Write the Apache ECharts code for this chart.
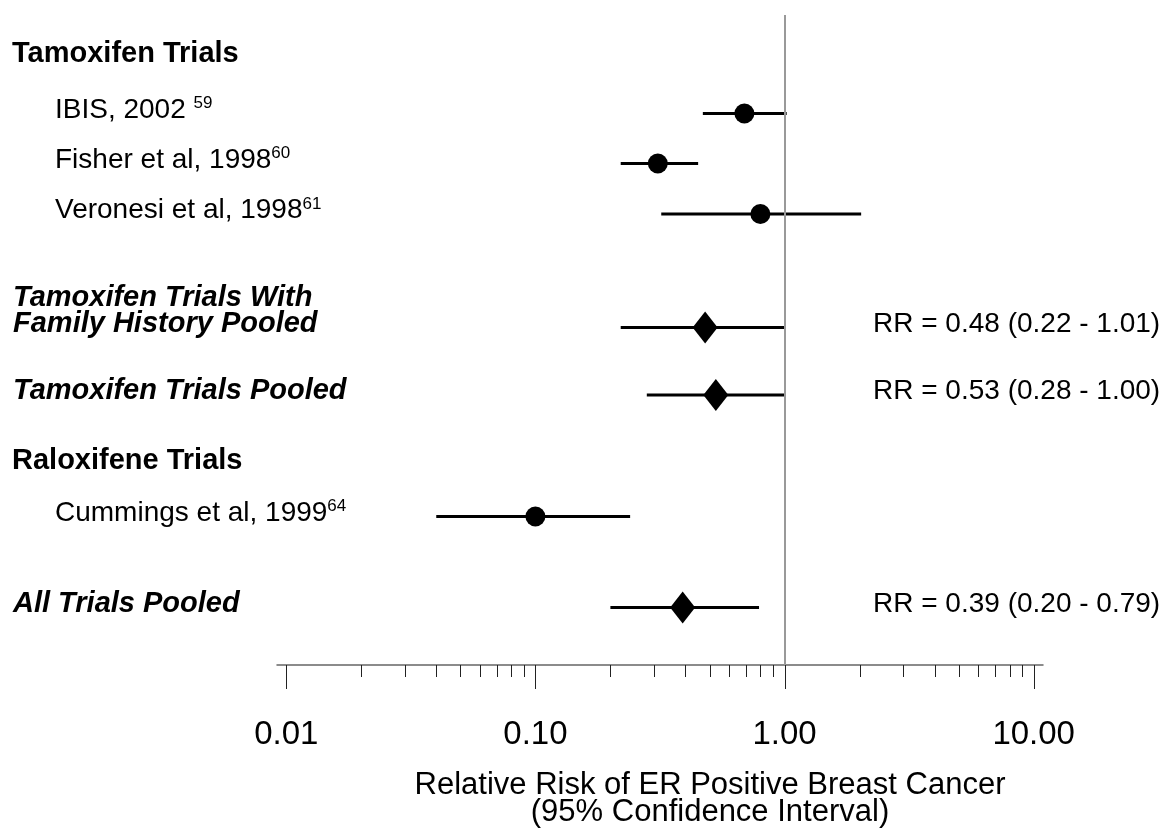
<!DOCTYPE html>
<html>
<head>
<meta charset="utf-8">
<script src="https://cdn.jsdelivr.net/npm/echarts@6/dist/echarts.min.js"></script>
<style>
  html, body { margin: 0; padding: 0; background: #fff; }
  #chart { width: 1170px; height: 830px; }
</style>
</head>
<body>
<div id="chart"></div>
<script>
// Forest plot rows, top to bottom
const rowLabels = [
  'Tamoxifen Trials',
  'IBIS, 2002',
  'Fisher et al, 1998',
  'Veronesi et al, 1998',
  'Tamoxifen Trials With\nFamily History Pooled',
  'Tamoxifen Trials Pooled',
  'Raloxifene Trials',
  'Cummings et al, 1999',
  'All Trials Pooled'
];
const refNumbers = ['', '59', '60', '61', '', '', '', '64', ''];
const refSpacer  = ['', ' ', '', '', '', '', '', '', ''];
const rowTypes = ['group', 'study', 'study', 'study', 'pooled', 'pooled', 'group', 'study', 'pooled'];

// Relative risk and 95% confidence limits (null for group headings)
const relativeRisk = [null, 0.69, 0.31, 0.80, 0.48, 0.53, null, 0.10, 0.39];
const ciLower      = [null, 0.47, 0.22, 0.32, 0.22, 0.28, null, 0.04, 0.20];
const ciUpper      = [null, 1.02, 0.45, 2.03, 1.01, 1.00, null, 0.24, 0.79];
const showSummary  = [false, false, false, false, true, true, false, false, true];

// Log axis ticks
const majorTicks = [0.01, 0.1, 1, 10];
const minorTicks = [0.02, 0.03, 0.04, 0.05, 0.06, 0.07, 0.08, 0.09,
                    0.2, 0.3, 0.4, 0.5, 0.6, 0.7, 0.8, 0.9,
                    2, 3, 4, 5, 6, 7, 8, 9];
const tickLabels = ['0.01', '0.10', '1.00', '10.00'];
const axisTitle = 'Relative Risk of ER Positive Breast Cancer\n(95% Confidence Interval)';
const nullEffect = 1;

// ---- layout ----
const FONT = '"Liberation Sans", Arial, Helvetica, sans-serif';
const X_MIN = 0.00918, X_MAX = 10.9;      // axis line runs a little past 0.01 and 10
const Y_MIN = 0, Y_MAX = 13;               // vertical row units
const rowSlot = [0.86, 1.97, 2.97, 3.98, 6.25, 7.6, 9.0, 10.03, 11.85];
const labelX = { group: 12, study: 55, pooled: 13 };
const labelFont = {
  group:  'bold 29px ' + FONT,
  study:  '28px ' + FONT,
  pooled: 'italic bold 29px ' + FONT
};
const summaryX = 873;

function fmt(v) { return v.toFixed(2); }

const rowIdx = rowLabels.map((_, i) => i);
const studyPts = rowIdx.filter(i => rowTypes[i] === 'study').map(i => [relativeRisk[i], rowSlot[i]]);
const pooledPts = rowIdx.filter(i => rowTypes[i] === 'pooled').map(i => [relativeRisk[i], rowSlot[i]]);
const ciRows = rowIdx.filter(i => relativeRisk[i] !== null);

const tickData = majorTicks.map((v, k) => [v, Y_MAX, 1, k]).concat(minorTicks.map(v => [v, Y_MAX, 0, -1]));

const chart = echarts.init(document.getElementById('chart'), null, { renderer: 'canvas' });

chart.setOption({
  animation: false,
  backgroundColor: '#ffffff',
  grid: { left: 277, right: 127, top: 15, bottom: 165 },
  title: {
    text: axisTitle,
    left: 705,
    top: 767,
    textAlign: 'center',
    textStyle: { fontFamily: FONT, fontSize: 31, fontWeight: 'normal', color: '#000', lineHeight: 27 }
  },
  xAxis: {
    type: 'log',
    logBase: 10,
    min: X_MIN,
    max: X_MAX,
    axisLine: { show: true, onZero: false, lineStyle: { color: '#666', width: 1.5 } },
    axisTick: { show: false },
    axisLabel: { show: false },
    splitLine: { show: false },
    minorTick: { show: false }
  },
  yAxis: {
    type: 'value',
    inverse: true,
    min: Y_MIN,
    max: Y_MAX,
    show: false,
    splitLine: { show: false }
  },
  series: [
    // row labels on the left
    {
      type: 'custom',
      clip: false,
      silent: true,
      data: rowIdx.map(i => [nullEffect, rowSlot[i]]),
      renderItem: function (params, api) {
        const i = params.dataIndex;
        const y = api.coord([nullEffect, rowSlot[i]])[1] - 3.6;
        const kind = rowTypes[i];
        const lines = rowLabels[i].split('\n');
        const lh = 26;
        if (refNumbers[i]) {
          return {
            type: 'text',
            x: labelX[kind],
            y: y,
            style: {
              text: '{m|' + rowLabels[i] + refSpacer[i] + '}{s|' + refNumbers[i] + '}',
              align: 'left',
              verticalAlign: 'middle',
              rich: {
                m: { font: labelFont[kind], fill: '#000', lineHeight: 30, verticalAlign: 'middle' },
                s: { font: '17px ' + FONT, fill: '#000', lineHeight: 30, verticalAlign: 'top', padding: [0, 0, 0, 0] }
              }
            }
          };
        }
        return {
          type: 'text',
          x: labelX[kind],
          y: y - (lines.length - 1) * lh / 2,
          style: {
            text: rowLabels[i],
            font: labelFont[kind],
            fill: '#000',
            lineHeight: lh,
            align: 'left',
            verticalAlign: 'middle'
          }
        };
      }
    },
    // confidence interval bars
    {
      type: 'custom',
      clip: false,
      silent: true,
      data: ciRows.map(i => [ciLower[i], rowSlot[i], ciUpper[i]]),
      renderItem: function (params, api) {
        const a = api.coord([api.value(0), api.value(1)]);
        const b = api.coord([api.value(2), api.value(1)]);
        return {
          type: 'line',
          shape: { x1: a[0], y1: a[1], x2: b[0], y2: b[1] },
          style: { stroke: '#000', lineWidth: 3 }
        };
      }
    },
    // summary text on the right
    {
      type: 'custom',
      clip: false,
      silent: true,
      data: ciRows.filter(i => showSummary[i]).map(i => [relativeRisk[i], rowSlot[i], ciLower[i], ciUpper[i]]),
      renderItem: function (params, api) {
        const y = api.coord([nullEffect, api.value(1)])[1] - 3.6;
        return {
          type: 'text',
          x: summaryX,
          y: y,
          style: {
            text: 'RR = ' + fmt(api.value(0)) + ' (' + fmt(api.value(2)) + ' - ' + fmt(api.value(3)) + ')',
            font: '28px ' + FONT,
            fill: '#000',
            align: 'left',
            verticalAlign: 'middle'
          }
        };
      }
    },
    // individual trial estimates
    {
      type: 'scatter',
      silent: true,
      z: 3,
      symbol: 'circle',
      symbolSize: 20,
      itemStyle: { color: '#000', opacity: 1 },
      data: studyPts
    },
    // pooled estimates
    {
      type: 'scatter',
      silent: true,
      z: 3,
      symbol: 'diamond',
      symbolSize: [25, 32],
      itemStyle: { color: '#000', opacity: 1 },
      data: pooledPts,
      markLine: {
        silent: true,
        symbol: 'none',
        z: 4,
        label: { show: false },
        lineStyle: { color: '#999', width: 2, type: 'solid', opacity: 1 },
        data: [{ xAxis: nullEffect }]
      }
    },
    // log axis ticks and labels
    {
      type: 'custom',
      clip: false,
      silent: true,
      data: tickData,
      renderItem: function (params, api) {
        const p = api.coord([api.value(0), api.value(1)]);
        const major = api.value(2) === 1;
        const x = Math.round(p[0]) + 0.5;
        const children = [{
          type: 'line',
          shape: { x1: x, y1: p[1], x2: x, y2: p[1] + (major ? 24 : 12) },
          style: { stroke: '#222', lineWidth: 1 }
        }];
        if (major) {
          children.push({
            type: 'text',
            x: p[0],
            y: p[1] + 70,
            style: {
              text: tickLabels[api.value(3)],
              font: '33px ' + FONT,
              fill: '#000',
              align: 'center',
              verticalAlign: 'middle'
            }
          });
        }
        return { type: 'group', children: children };
      }
    }
  ]
});
</script>
</body>
</html>
